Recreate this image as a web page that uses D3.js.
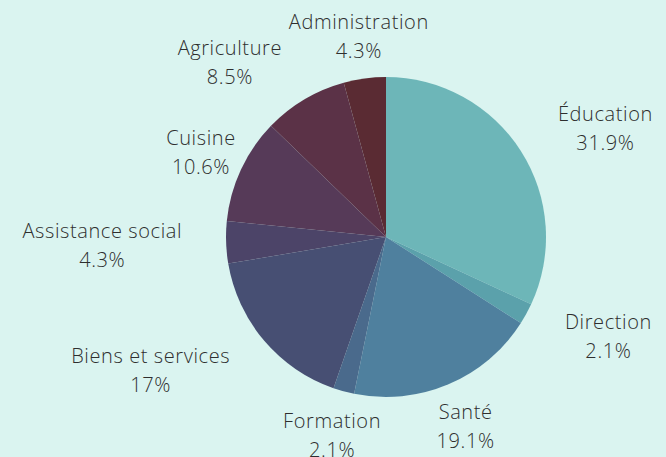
<!DOCTYPE html>
<html>
<head>
<meta charset="utf-8">
<script src="https://cdn.jsdelivr.net/npm/d3@7"></script>
<style>
  body { margin: 0; background: #daf4f0; }
  svg { display: block; }
</style>
</head>
<body>
<script>
var categories = ["Éducation", "Direction", "Santé", "Formation", "Biens et services",
    "Assistance social", "Cuisine", "Agriculture", "Administration"];
var counts = [15, 1, 9, 1, 8, 2, 5, 4, 2];
var pctLabels = ["31.9%", "2.1%", "19.1%", "2.1%", "17%", "4.3%", "10.6%", "8.5%", "4.3%"];
var colors = ["#6db6b8", "#5ba1ab", "#4f809e", "#4a6a8c", "#474f73",
    "#4c4468", "#563a58", "#5b3247", "#5a2b33"];

var width = 666;
var height = 457;
var cx = 386, cy = 237;
var radius = 160;
var labelRadius = 204;

var svg = d3.select("body").append("svg")
    .attr("width", width)
    .attr("height", height);

svg.append("rect")
    .attr("width", width)
    .attr("height", height)
    .attr("fill", "#daf4f0");

var color = d3.scaleOrdinal().domain(categories).range(colors);

var pie = d3.pie()
    .sort(null)
    .value(function(d, i) { return counts[i]; });

var arcs = pie(categories);

var arc = d3.arc().innerRadius(0).outerRadius(radius);

var g = svg.append("g").attr("transform", "translate(" + cx + "," + cy + ")");

g.selectAll("path")
    .data(arcs)
    .enter()
    .append("path")
    .attr("d", arc)
    .attr("fill", function(d) { return color(d.data); });

// Labels outside the pie: two centred lines, block anchored by side
var centerAnchor = {"Cuisine": true};

var labels = g.selectAll("text.lbl")
    .data(arcs)
    .enter()
    .append("text")
    .attr("class", "lbl")
    .attr("font-family", "'Open Sans', sans-serif")
    .attr("font-weight", 300)
    .attr("font-size", "20px")
    .attr("letter-spacing", "0.6px")
    .attr("fill", "#2e2e2e")
    .attr("text-anchor", "middle");

labels.append("tspan")
    .attr("x", 0)
    .attr("y", -8)
    .text(function(d) { return d.data; });

labels.append("tspan")
    .attr("x", 0)
    .attr("y", 21)
    .text(function(d, i) { return pctLabels[i]; });

labels.attr("transform", function(d) {
    var a = (d.startAngle + d.endAngle) / 2;
    var s = Math.sin(a);
    var x = s * labelRadius;
    var y = -Math.cos(a) * labelRadius + 2;
    var w = 0;
    d3.select(this).selectAll("tspan").each(function() {
        w = Math.max(w, this.getComputedTextLength());
    });
    if (!centerAnchor[d.data]) {
        if (s > 0.5) x += w / 2;
        else if (s < -0.5) x -= w / 2;
    }
    return "translate(" + x + "," + y + ")";
});
</script>
</body>
</html>
